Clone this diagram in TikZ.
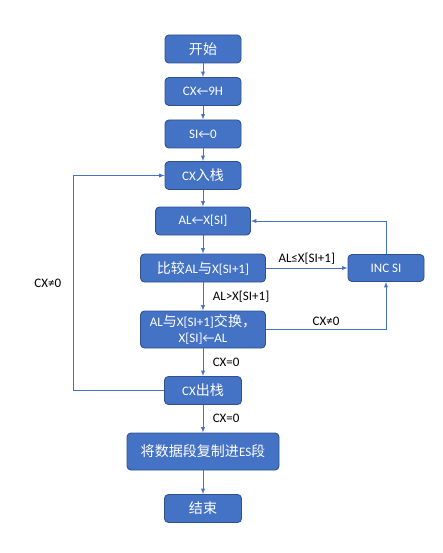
\documentclass[tikz,border=0pt]{standalone}
\usepackage{fontspec}
\setmainfont{Carlito}
\newfontfamily\cjk[Scale=1.08]{Noto Sans CJK SC}
\usetikzlibrary{positioning}
\definecolor{boxblue}{HTML}{4472C4}
\definecolor{boxedge}{HTML}{2F528F}
\tikzset{>=latex}
\tikzset{box/.style={draw=boxedge, fill=boxblue, rounded corners=4pt, text=white, minimum height=28pt, line width=0.9pt, align=center, font=\fontsize{13}{16.5}\selectfont},
  link/.style={draw=boxblue, line width=0.9pt, ->},
  cond/.style={font=\fontsize{13}{15}\selectfont}}

\begin{document}
\begin{tikzpicture}[x=1pt, y=1pt]
      \useasboundingbox (0,0) rectangle (443,-553);
      \node[box, minimum width=76pt] (n0) at (203,-49) {\cjk 开始};
      \node[box, minimum width=76pt, below of=n0, node distance=42.5pt] (n1) {CX←9H};
      \node[box, minimum width=76pt, below of=n1, node distance=42.5pt] (n2) {SI←0};
      \node[box, minimum width=76pt, below of=n2, node distance=41.5pt] (n3) {CX{\cjk 入栈}};
      \node[box, minimum width=95pt, below of=n3, node distance=45.5pt] (n4) {AL←X[SI]};
      \node[box, minimum width=125pt, below of=n4, node distance=47pt] (n5) {{\cjk 比较}AL{\cjk 与}X[SI+1]};
      \node[box, minimum width=125pt, minimum height=37pt, below of=n5, node distance=61.5pt] (n6) {AL{\cjk 与}X[SI+1]{\cjk 交换，}\\X[SI]←AL};
      \node[box, minimum width=77pt, below of=n6, node distance=61pt] (n7) {CX{\cjk 出栈}};
      \node[box, minimum width=152pt, minimum height=37pt, below of=n7, node distance=61pt] (n8) {{\cjk 将数据段复制进}ES{\cjk 段}};
      \node[box, minimum width=77pt, below of=n8, node distance=57pt] (n9) {\cjk 结束};
      \node[box, minimum width=76pt, minimum height=27pt, right of=n5, node distance=183pt] (n10) {INC SI};
      \coordinate[left of=n7, node distance=130pt] (aux1);
      \draw[link] (n0) to (n1);
      \draw[link] (n1) to (n2);
      \draw[link] (n2) to (n3);
      \draw[link] (n3) to (n4);
      \draw[link] (n4) to (n5);
      \draw[link] (n5) to node[cond, midway, right=6pt]{AL>X[SI+1]} (n6);
      \draw[link] (n5) to node[cond, midway, above]{AL≤X[SI+1]} (n10);
      \draw[link] (n10) |- (n4);
      \draw[link] (n6) -| node[cond, pos=0.25, above]{CX≠0} (n10);
      \draw[link] (n6) to node[cond, midway, right=6pt]{CX=0} (n7);
      \draw[link] (n7) to (aux1) |- node[cond, pos=0.25, left=8pt]{CX≠0} (n3);
      \draw[link] (n7) to node[cond, midway, right=6pt]{CX=0} (n8);
      \draw[link] (n8) to (n9);
    \end{tikzpicture}
\end{document}
